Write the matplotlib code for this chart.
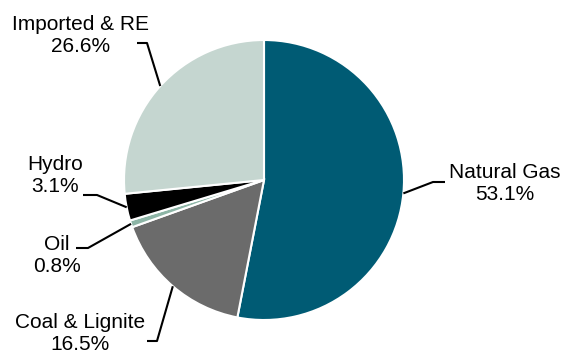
import numpy as np
import matplotlib.pyplot as plt

plt.rcParams['font.family'] = ['Liberation Sans', 'DejaVu Sans']

# Energy mix shares (%)
sources = ["Natural Gas", "Coal & Lignite", "Oil", "Hydro", "Imported & RE"]
shares = [53.1, 16.5, 0.8, 3.1, 26.6]
colors = ["#005B74", "#6B6B6B", "#8DB5A6", "#000000", "#C5D6D0"]

# label placement (pixel coords, y down): text centre, elbow, line end
label_pos = [(505, 184), (80, 334), (57, 255), (55, 175), (81, 36)]
elbows = [(433, 182), (157, 341), (88, 248), (97, 195), (147, 43)]
ends = [(445, 182), (147, 341), (76, 248), (83, 195), (137, 43)]

W, H = 563, 356
cx, cy, r = 264, 180, 140

fig = plt.figure(figsize=(W / 100, H / 100), dpi=100)
ax = fig.add_axes([0, 0, 1, 1])
ax.set_xlim(0, W)
ax.set_ylim(0, H)
ax.set_aspect("equal")
ax.axis("off")

wedges, _ = ax.pie(shares, colors=colors, startangle=90, counterclock=False,
                   center=(cx, H - cy), radius=r,
                   wedgeprops=dict(edgecolor="white", linewidth=1.5))
ax.set_xlim(0, W)
ax.set_ylim(0, H)

for w, name, val, (tx, ty), (ex, ey), (lx, ly) in zip(
        wedges, sources, shares, label_pos, elbows, ends):
    ang = np.deg2rad((w.theta1 + w.theta2) / 2)
    sx = cx + r * np.cos(ang)
    sy = H - cy + r * np.sin(ang)
    ax.plot([sx, ex, lx], [sy, H - ey, H - ly], color="black", lw=1.5,
            solid_capstyle="butt")
    ax.text(tx, H - ty, f"{name}\n{val}%", ha="center", va="center",
            fontsize=15, linespacing=1.2)

fig.savefig("out.png", dpi=100)
